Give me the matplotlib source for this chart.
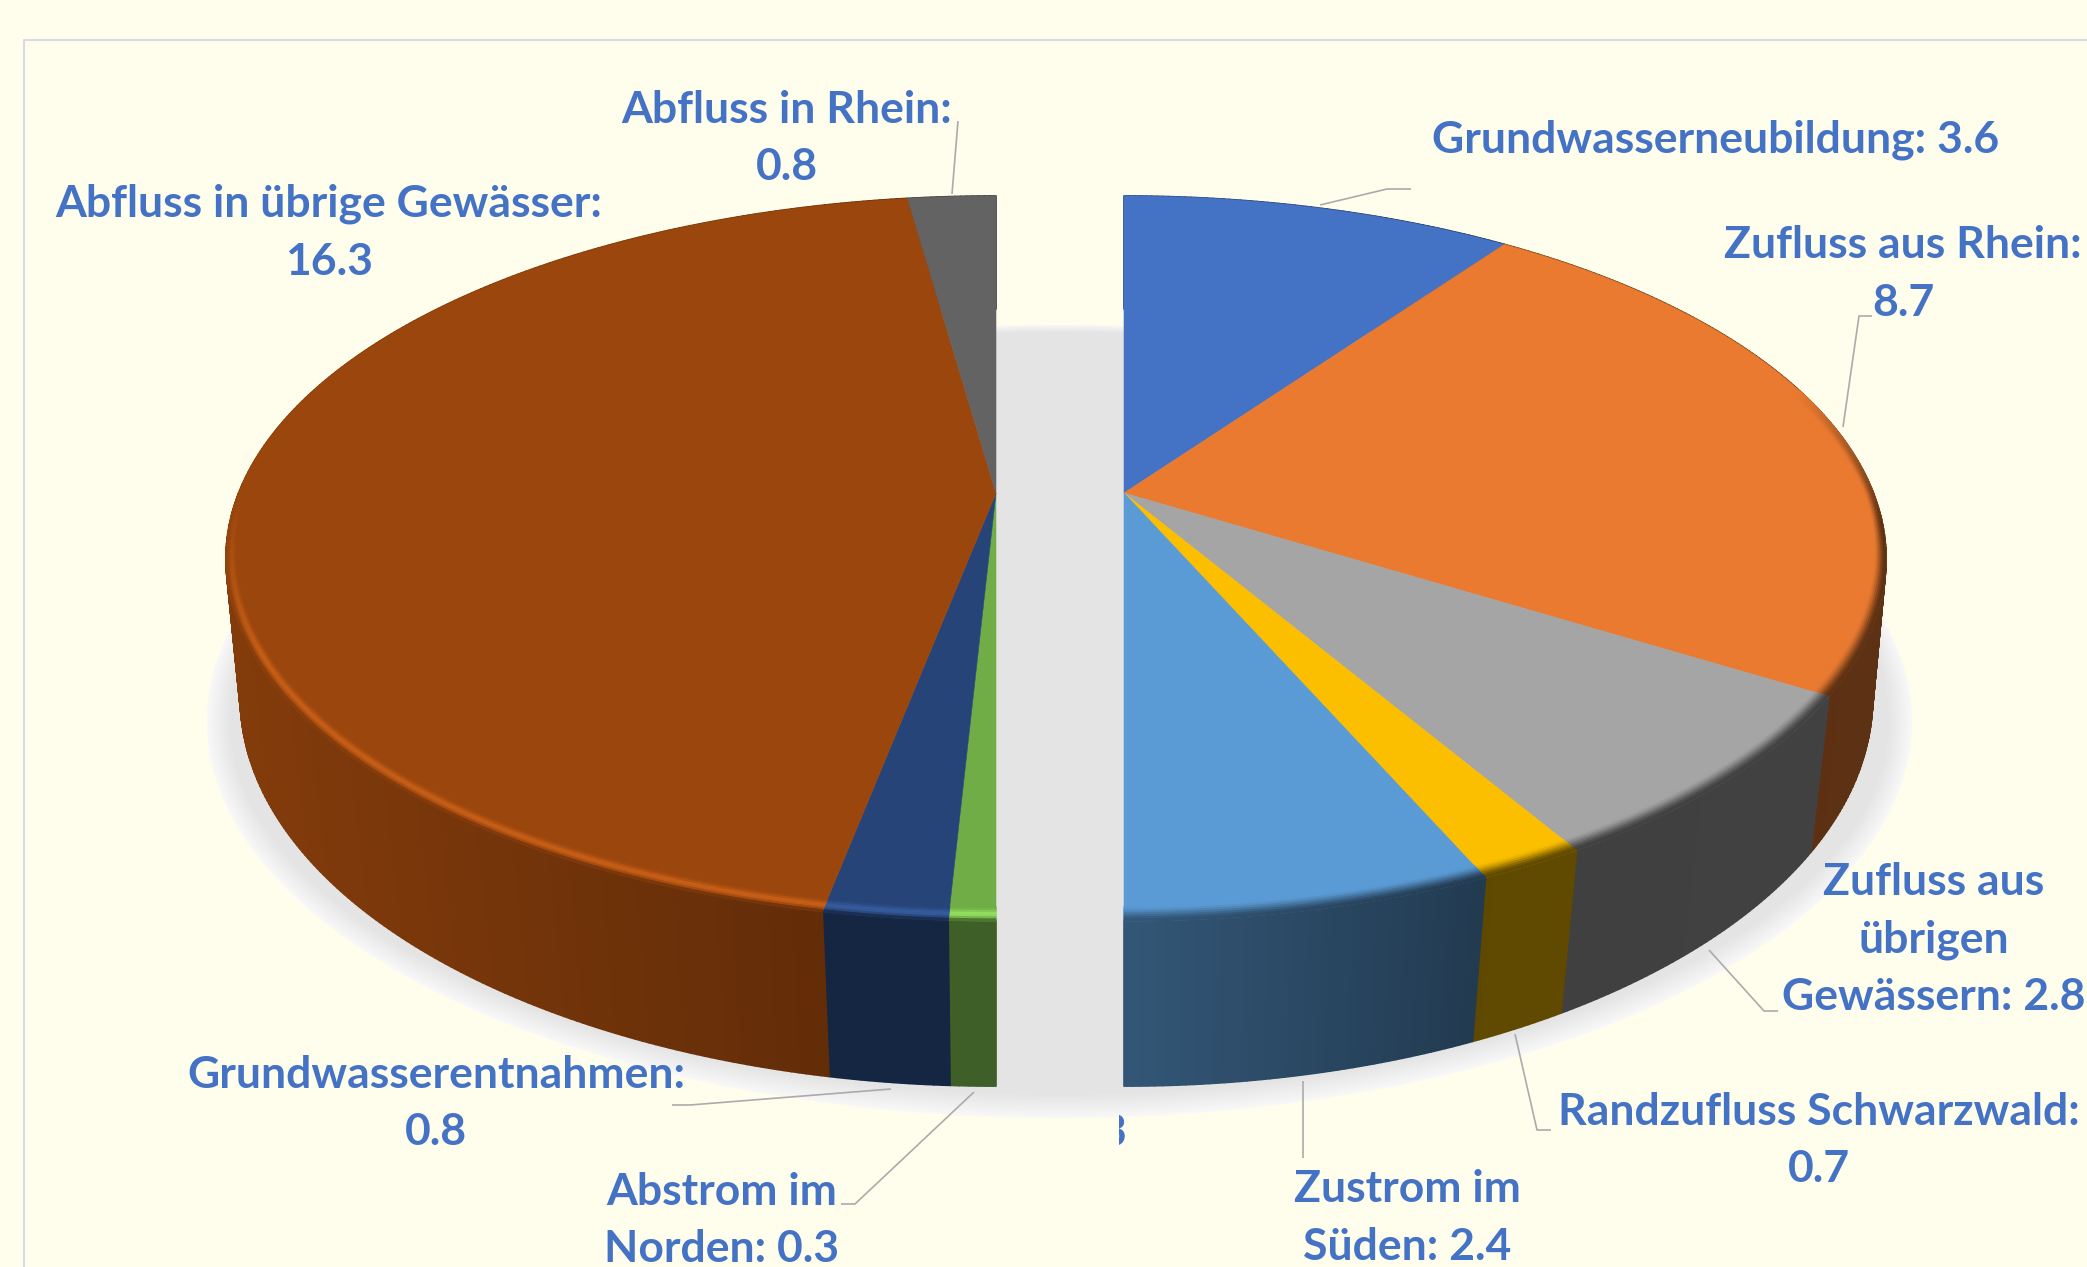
import matplotlib
matplotlib.use('Agg')
import matplotlib.pyplot as plt
import numpy as np
from matplotlib.collections import PolyCollection, LineCollection
from matplotlib.patches import Polygon, Rectangle

plt.rcParams['font.family'] = ['Lato', 'DejaVu Sans']

# values clockwise from 12 o'clock
slice_names = ['Grundwasserneubildung', 'Zufluss aus Rhein', 'Zufluss aus übrigen Gewässern',
               'Randzufluss Schwarzwald', 'Zustrom im Süden', 'Abstrom im Norden',
               'Grundwasserentnahmen', 'Abfluss in übrige Gewässer', 'Abfluss in Rhein']
slice_values = [3.6, 8.7, 2.8, 0.7, 2.4, 0.3, 0.8, 16.3, 0.8]
slice_colors = ['#4472C4', '#E97A30', '#A5A5A5', '#FBBF00', '#5B9BD5',
                '#70AD47', '#264478', '#9A460D', '#636363']

label_lines = [['Grundwasserneubildung: 3.6'], ['Zufluss aus Rhein:', '8.7'],
               ['Zufluss aus', 'übrigen', 'Gewässern: 2.8'], ['Randzufluss Schwarzwald:', '0.7'],
               ['Zustrom im', 'Süden: 2.4'], ['Abstrom im', 'Norden: 0.3'],
               ['Grundwasserentnahmen:', '0.8'], ['Abfluss in übrige Gewässer:', '16.3'],
               ['Abfluss in Rhein:', '0.8']]
label_x = [1716, 1903, 1934, 1819, 1407, 722, 436, 329, 787]
label_y = [[138], [243, 301], [880, 937, 995], [1110, 1167], [1187, 1245],
           [1190, 1247], [1073, 1130], [202, 260], [108, 165]]
leaders = [[(1411, 189), (1387, 189), (1320, 205)],
           [(1872, 316), (1859, 316), (1843, 427)],
           [(1778, 1011), (1764, 1011), (1709, 950)],
           [(1551, 1130), (1537, 1130), (1515, 1034)],
           [(1303, 1158), (1303, 1081)],
           [(841, 1204), (855, 1204), (974, 1092)],
           [(672, 1105), (690, 1105), (891, 1089)],
           [(958, 121), (952, 194)]]

BG = '#FFFDEB'
TEXT_COLOR = '#4472C4'
LEADER_COLOR = '#ABABAB'
FONT_SIZE = 32

# perspective of the two discs, in pixels
APEX_Y = 493
TOP_K, TOP_A = 0.1807, 350.7
BOT_K, BOT_A, BOT_Y = 0.16, 378.6, 635.4
HALF = {'right': dict(cx=1124, top_b=749.5, bot_b=739.0),
        'left': dict(cx=996, top_b=757.4, bot_b=746.0)}


def project(theta, rho, half, bottom=False):
    x = rho * np.sin(theta)
    y = rho * np.cos(theta)
    if bottom:
        d = 1 + BOT_K * y
        return half['cx'] + half['bot_b'] * x / d, BOT_Y - BOT_A * y / d
    d = 1 + TOP_K * y
    return half['cx'] + half['top_b'] * x / d, APEX_Y - TOP_A * y / d


def to_rgb(color):
    return np.array(matplotlib.colors.to_rgb(color))


def side_factor(px, side):
    if side == 'left':
        return np.interp(px, [226, 823, 824, 996], [0.85, 0.64, 0.56, 0.55])
    return np.interp(px, [1124, 1480, 1889], [0.56, 0.38, 0.40])


def rim_weight(theta, side):
    deg = np.degrees(theta)
    if side == 'left':
        return np.clip((270 - deg) / 25, 0, 1)
    return np.clip((deg - 72) / 23, 0, 1)


def rim_rho(theta, frac):
    # band is thin at the sides of the disc, wider at the front
    width = 0.012 + 0.016 * abs(np.cos(theta))
    return 1 - width * (1 - frac)


def ring_color(top, shade, t, w, side):
    if side == 'left':
        light = np.minimum(top * 1.28 + 0.03, 1)
        bump = np.clip(1 - abs(t - 0.55) / 0.4, 0, 1)
        col = top + (light - top) * bump
        end = np.clip((t - 0.75) / 0.25, 0, 1)
        col = col + (shade - col) * end
    else:
        s = t * t * (3 - 2 * t)
        col = top + (shade - top) * s
    return top + (col - top) * w


fig = plt.figure(figsize=(20.87, 12.67), dpi=100, facecolor=BG)
ax = fig.add_axes([0, 0, 1, 1])
ax.axis('off')

# soft floor shadow
yy, xx = np.mgrid[0:1267, 0:2087]
dx = (xx - 1059) / 853.0
dy = (yy - 721) / 397.0
r = np.sqrt(dx ** 2 + dy ** 2) + 1e-6
grad = np.sqrt((dx / 853.0) ** 2 + (dy / 397.0) ** 2) / r
dist = (1 - r) / grad
fade = 8 + 17 * np.clip((yy - 400) / 300.0, 0, 1)
level = (0xF9 + (0xE4 - 0xF9) * np.clip(dist / fade, 0, 1)) / 255
shadow = np.ones((1267, 2087, 4))
shadow[..., 0] = level
shadow[..., 1] = level
shadow[..., 2] = level
shadow[..., 3] = np.clip(dist, 0, 1)
ax.imshow(shadow, extent=(0, 2087, 1267, 0), zorder=1, interpolation='bilinear')

# chart frame
ax.plot([24, 24, 2087], [1267, 40, 40], color='#D8DCE2', lw=1.5, zorder=0.5)

# slices
total = sum(slice_values)
edges = np.concatenate([[0], np.cumsum(slice_values)]) / total * 2 * np.pi
for i, value in enumerate(slice_values):
    a0, a1 = edges[i], edges[i + 1]
    side = 'right' if (a0 + a1) / 2 < np.pi else 'left'
    half = HALF[side]
    top = to_rgb(slice_colors[i])
    thetas = np.linspace(a0, a1, max(int(np.degrees(a1 - a0) * 2), 2) + 1)

    # outer wall
    polys, cols = [], []
    for t0, t1 in zip(thetas[:-1], thetas[1:]):
        x0, y0 = project(t0, 1, half)
        x1, y1 = project(t1, 1, half)
        x2, y2 = project(t1, 1, half, bottom=True)
        x3, y3 = project(t0, 1, half, bottom=True)
        polys.append([(x0, y0), (x1, y1), (x2, y2), (x3, y3)])
        cols.append(top * side_factor((x0 + x1) / 2, side))
    ax.add_collection(PolyCollection(polys, facecolors=cols, edgecolors=cols, linewidths=1.2, zorder=2))

    # top face
    xs, ys = project(thetas, 1, half)
    cx, cy = project(0.0, 0, half)
    ax.add_patch(Polygon(np.column_stack([np.r_[cx, xs], np.r_[cy, ys]]), closed=True,
                         facecolor=top, edgecolor=top, lw=0.4, zorder=3))

    # rim blur and highlight just inside the edge
    n_rings = 7
    polys, cols = [], []
    for j in range(n_rings):
        frac = (j + 0.5) / n_rings
        for t0, t1 in zip(thetas[:-1], thetas[1:]):
            w = rim_weight((t0 + t1) / 2, side)
            if w <= 0:
                continue
            x0, y0 = project(t0, rim_rho(t0, j / n_rings), half)
            x1, y1 = project(t1, rim_rho(t1, j / n_rings), half)
            x2, y2 = project(t1, rim_rho(t1, (j + 1) / n_rings), half)
            x3, y3 = project(t0, rim_rho(t0, (j + 1) / n_rings), half)
            polys.append([(x0, y0), (x1, y1), (x2, y2), (x3, y3)])
            shade = top * side_factor((x2 + x3) / 2, side)
            cols.append(ring_color(top, shade, frac, w, side))
    if polys:
        ax.add_collection(PolyCollection(polys, facecolors=cols, edgecolors=cols, linewidths=0.8, zorder=4))

# leader lines
ax.add_collection(LineCollection(leaders, colors=LEADER_COLOR, linewidths=1.2, zorder=5))

# data labels
for lines, x, ys in zip(label_lines, label_x, label_y):
    for line, y in zip(lines, ys):
        ax.text(x, y + 15, line, ha='center', va='baseline', fontsize=FONT_SIZE, fontweight='bold',
                color=TEXT_COLOR, zorder=6)

# clipped remainder of a hidden label at the gap
sliver = ax.text(1126, 1146, '3', ha='right', va='baseline', fontsize=FONT_SIZE, fontweight='bold',
                 color=TEXT_COLOR, zorder=6)
sliver.set_clip_on(True)
sliver.set_clip_path(Rectangle((1119, 1110), 20, 45, transform=ax.transData))

ax.set_xlim(0, 2087)
ax.set_ylim(1267, 0)
fig.savefig('out.png', dpi=100, facecolor=BG)
